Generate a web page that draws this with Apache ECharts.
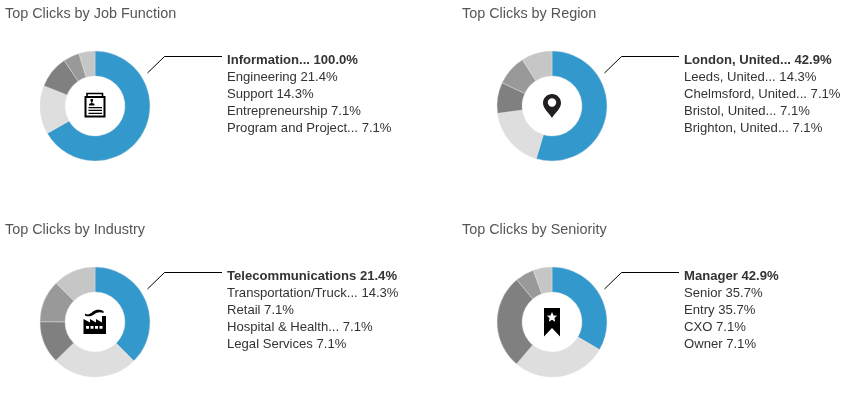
<!DOCTYPE html>
<html><head><meta charset="utf-8">
<style>html,body{margin:0;padding:0;background:#fff}#c{width:845px;height:403px}</style>
<script src="https://cdn.jsdelivr.net/npm/echarts@6/dist/echarts.min.js"></script>
</head><body><div id="c"></div>
<script>
var titles = ['Top Clicks by Job Function','Top Clicks by Region','Top Clicks by Industry','Top Clicks by Seniority'];
var jobNames = ['Information...','Engineering','Support','Entrepreneurship','Program and Project...'];
var jobValues = [100.0,21.4,14.3,7.1,7.1];
var regionNames = ['London, United...','Leeds, United...','Chelmsford, United...','Bristol, United...','Brighton, United...'];
var regionValues = [42.9,14.3,7.1,7.1,7.1];
var industryNames = ['Telecommunications','Transportation/Truck...','Retail','Hospital & Health...','Legal Services'];
var industryValues = [21.4,14.3,7.1,7.1,7.1];
var seniorityNames = ['Manager','Senior','Entry','CXO','Owner'];
var seniorityValues = [42.9,35.7,35.7,7.1,7.1];
var sliceColors = ['#3399cc','#dedede','#808080','#999999','#c6c6c6'];

var panels = [
  {names:jobNames,values:jobValues,cx:95,cy:106,icon:'card'},
  {names:regionNames,values:regionValues,cx:552,cy:106,icon:'pin'},
  {names:industryNames,values:industryValues,cx:95,cy:322,icon:'factory'},
  {names:seniorityNames,values:seniorityValues,cx:552,cy:322,icon:'ribbon'}
];
var FONT = '"Liberation Sans", Arial, sans-serif';

var shapeCount = 0;
function p(d,fill,stroke,w){
  var name = 'iconPath' + (shapeCount++);
  echarts.graphic.registerShape(name, echarts.graphic.extendPath(d, {}));
  return {type:name,shape:{},silent:true,
    style:{fill:fill||'#000',stroke:stroke||null,lineWidth:w||0}};
}
var icons = {
  card:[
    p('M-8 -10 L-8 -12.5 L7.5 -12.5 L7.5 -10','none','#000',1.6),
    p('M-9.5 -9 L9.5 -9 L9.5 10.5 L-9.5 10.5 Z','#fff','#000',2),
    p('M-6 -0.5 L-6 -2 L-3.5 -3.2 L-4.5 -5 L-4.5 -7 L-2 -7 L-2 -5 L-3 -3.2 L-0.5 -2 L-0.5 -0.5 Z','#000'),
    p('M-6.5 1 H7 V2.2 H-6.5 Z M-6.5 3.8 H7 V5 H-6.5 Z M-6.5 6.8 H7 V8 H-6.5 Z','#000')
  ],
  pin:[
    p('M0 12 C-2 8 -9 3 -9 -3 C-9 -8 -5 -12 0 -12 C5 -12 9 -8 9 -3 C9 3 2 8 0 12 Z','#231f20'),
    {type:'circle',shape:{cx:0,cy:-3.5,r:4.2},style:{fill:'#fff'},silent:true}
  ],
  factory:[
    p('M-11.5 12 L-11.5 -3 L-5 0.5 L-5 -3 L1 0.5 L1 -3 L7 0.5 L7 -6 L11 -6 L11 12 Z','#000'),
    p('M-9 4 H-6 V6.8 H-9 Z M-4.5 4 H-1.5 V6.8 H-4.5 Z M0 4 H3 V6.8 H0 Z M4.5 4 H7.5 V6.8 H4.5 Z','#fff'),
    p('M-10 -8.5 C-7 -6.5 -5 -8 -2 -10.5 C1 -12.5 4 -13 8.5 -11 L8.5 -9 C5 -10.5 2 -10 -1 -7.5 C-4 -5.5 -7 -5 -10 -6.5 Z','#000')
  ],
  ribbon:[
    p('M-8 -14 L8 -14 L8 14.5 L0 6 L-8 14.5 Z','#000'),
    p('M0 -10 L1.5 -6.6 L5.2 -6.3 L2.4 -3.9 L3.2 -0.3 L0 -2.2 L-3.2 -0.3 L-2.4 -3.9 L-5.2 -6.3 L-1.5 -6.6 Z','#fff')
  ]
};

var series = [], graphic = [];
panels.forEach(function(pn,i){
  series.push({
    type:'pie',center:[pn.cx,pn.cy],radius:[30,55],startAngle:90,clockwise:true,
    avoidLabelOverlap:false,silent:true,animation:false,
    label:{show:false},labelLine:{show:false},
    itemStyle:{borderColor:'#e4e4e4',borderWidth:0.4},
    data:pn.values.map(function(v,j){
      return {name:pn.names[j],value:v,itemStyle:{color:sliceColors[j]}};
    })
  });
  graphic.push({type:'text',x:pn.cx-90,y:pn.cy-92,silent:true,
    style:{text:titles[i],fill:'#555',font:'14.4px '+FONT,verticalAlign:'middle'}});
  graphic.push({type:'polyline',silent:true,x:pn.cx,y:pn.cy,
    shape:{points:[[52.5,-33],[69.5,-49.5],[127,-49.5]]},
    style:{stroke:'#000',lineWidth:1,fill:null}});
  pn.names.forEach(function(nm,j){
    graphic.push({type:'text',x:pn.cx+132,y:pn.cy-46+17*j,silent:true,
      style:{text:nm+' '+pn.values[j].toFixed(1)+'%',fill:'#333',
        font:(j===0?'bold ':'')+'13.1px '+FONT,verticalAlign:'middle'}});
  });
  graphic.push({type:'group',x:pn.cx,y:pn.cy,silent:true,children:icons[pn.icon]});
});

var chart = echarts.init(document.getElementById('c'),null,{renderer:'canvas'});
chart.setOption({animation:false,backgroundColor:'#fff',series:series,graphic:{elements:graphic}});
</script></body></html>
